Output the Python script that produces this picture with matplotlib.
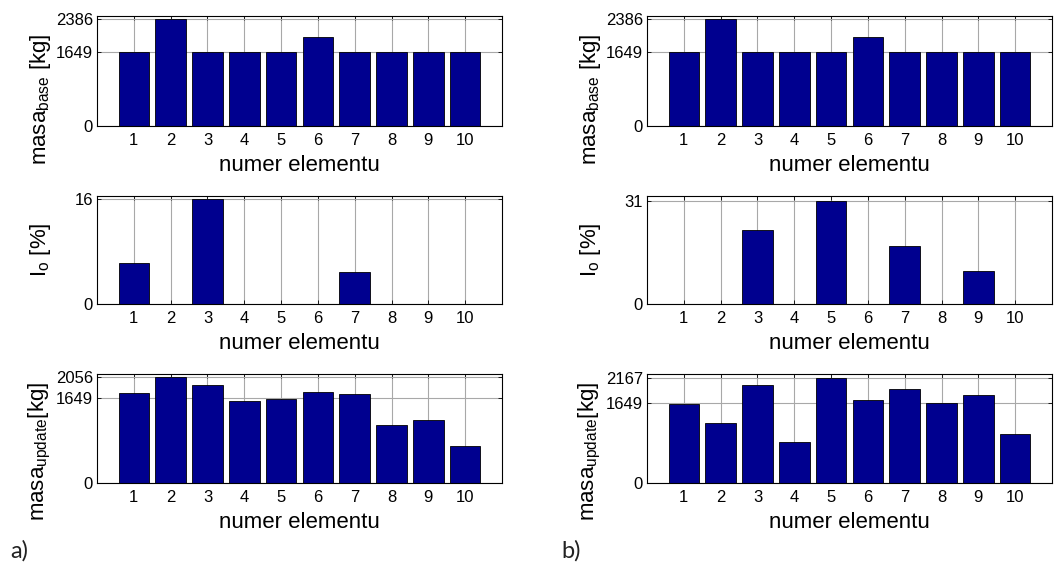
import matplotlib
matplotlib.use("Agg")
import matplotlib.pyplot as plt
import numpy as np

plt.rcParams['font.family'] = ['Liberation Sans', 'DejaVu Sans']
plt.rcParams['mathtext.fontset'] = 'custom'
plt.rcParams['mathtext.rm'] = 'Liberation Sans'
plt.rcParams['mathtext.it'] = 'Liberation Sans'

elements = list(range(1, 10 + 1))

# case a)
mass_base_a = [1649, 2386, 1649, 1649, 1649, 1984, 1649, 1649, 1649, 1649]
damage_a = [6.3, 0, 16, 0, 0, 0, 4.9, 0, 0, 0]
mass_update_a = [1733, 2056, 1899, 1585, 1624, 1753, 1720, 1117, 1225, 718]

# case b)
mass_base_b = [1649, 2386, 1649, 1649, 1649, 1984, 1649, 1649, 1649, 1649]
damage_b = [0, 0, 22.2, 0, 31, 0, 17.4, 0, 10.0, 0]
mass_update_b = [1642, 1252, 2024, 862, 2167, 1716, 1942, 1655, 1827, 1012]

yticks_base = [0, 1649, 2386]
yticks_dmg_a = [0, 16]
yticks_dmg_b = [0, 31]
yticks_upd_a = [0, 1649, 2056]
yticks_upd_b = [0, 1649, 2167]

W, H = 1059, 572
fig = plt.figure(figsize=(W / 100, H / 100), dpi=100)

bar_color = '#00008f'
cols_left = [97, 647]
ax_w = 405
rows = [(16, 126), (195.5, 304.5), (374, 483.3)]

ylabels = [r'masa$_{\mathrm{base}}$ [kg]', r'I$_{\mathrm{o}}$ [%]',
           r'masa$_{\mathrm{update}}$[kg]']
# vertical placement of each y-label (axes fraction)
ylabel_y = [0.245, 0.5, 0.295]

panels = [
    [(mass_base_a, yticks_base, 2461), (damage_a, yticks_dmg_a, 16.55),
     (mass_update_a, yticks_upd_a, 2105)],
    [(mass_base_b, yticks_base, 2461), (damage_b, yticks_dmg_b, 32.6),
     (mass_update_b, yticks_upd_b, 2258)],
]

for c, col in enumerate(panels):
    for r, (vals, yt, ytop) in enumerate(col):
        top, bot = rows[r]
        ax = fig.add_axes([cols_left[c] / W, 1 - bot / H, ax_w / W, (bot - top) / H])
        ax.set_axisbelow(True)
        ax.bar(elements, vals, width=0.83, color=bar_color, edgecolor='black',
               linewidth=0.6, zorder=2)
        ax.set_xlim(0, 11)
        ax.set_ylim(0, ytop)
        ax.set_xticks(elements)
        ax.set_yticks(yt)
        ax.grid(True, color='#a8a8a8', linewidth=0.8)
        ax.tick_params(direction='in', top=True, right=True, length=3,
                       width=0.6, labelsize=12, pad=5, colors='black')
        ax.tick_params(axis='y', pad=3)
        for s in ax.spines.values():
            s.set_linewidth(0.8)
            s.set_color('black')
        ax.set_xlabel('numer elementu', fontsize=16, labelpad=5)
        ax.set_ylabel(ylabels[r], fontsize=16)
        ax.yaxis.set_label_coords(-0.108, ylabel_y[r])

fig.text(10 / W, 1 - 551 / H, 'a)', fontsize=17, family=['Lato', 'DejaVu Sans'],
         va='center', ha='left', color='#222222')
fig.text(561 / W, 1 - 551 / H, 'b)', fontsize=17, family=['Lato', 'DejaVu Sans'],
         va='center', ha='left', color='#222222')

fig.savefig('out.png', dpi=100)
